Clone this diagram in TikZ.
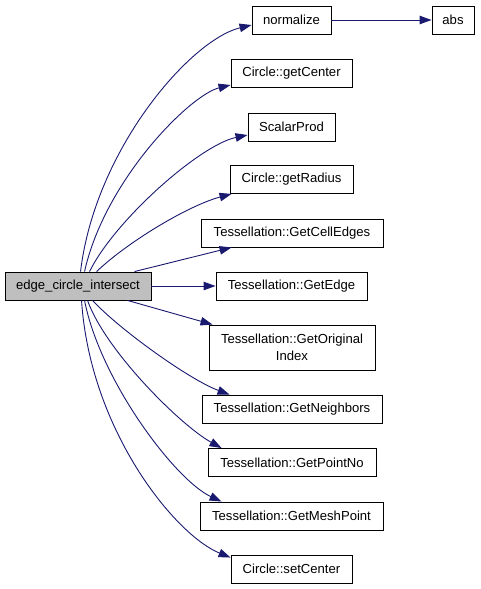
\documentclass[tikz,border=0pt]{standalone}
\usepackage{fontspec}
\setmainfont{Liberation Sans}
\usetikzlibrary{arrows.meta}
\definecolor{edgeblue}{RGB}{25,25,112}
\definecolor{srcgray}{RGB}{191,191,191}
\tikzset{
  fn/.style={draw=black, fill=white, line width=0.9pt, inner sep=0pt, minimum height=28pt,
    font=\fontsize{13.1}{16.5}\selectfont, text=black},
  srcfn/.style={fn, fill=srcgray},
  call/.style={draw=edgeblue, line width=0.9pt, -{Triangle[length=12pt,width=8.5pt]}},
}
\begin{document}
\begin{tikzpicture}[x=1pt,y=-1pt]
\useasboundingbox (0,0) rectangle (480,589);
\node[srcfn, minimum width=146pt] (src) at (78,286) {edge\_circle\_intersect};
\node[fn, minimum width=79pt] (nrm) at (291.5,20) {normalize};
\node[fn, minimum width=42pt] (abs) at (453,20) {abs};
\node[fn, minimum width=121pt] (gc) at (291.5,73.5) {Circle::getCenter};
\node[fn, minimum width=87pt] (sp) at (291.5,127) {ScalarProd};
\node[fn, minimum width=123pt] (gr) at (291.5,179.5) {Circle::getRadius};
\node[fn, minimum width=182pt] (ce) at (292,233) {Tessellation::GetCellEdges};
\node[fn, minimum width=151pt] (ge) at (291.5,286) {Tessellation::GetEdge};
\node[fn, minimum width=166pt, minimum height=45pt, align=center] (go) at (292,347.5) {Tessellation::GetOriginal\\Index};
\node[fn, minimum width=180pt] (gn) at (292,409) {Tessellation::GetNeighbors};
\node[fn, minimum width=168pt] (gp) at (292,462.5) {Tessellation::GetPointNo};
\node[fn, minimum width=183pt] (gm) at (291.5,516) {Tessellation::GetMeshPoint};
\node[fn, minimum width=121pt] (sc) at (291.5,569) {Circle::setCenter};

\draw[call] (nrm.east) -- (abs.west);
\draw[call] ([xshift=76pt]src.north west) .. controls (95,150) and (190,40) .. ([yshift=-5pt]nrm.west);
\draw[call] ([xshift=80pt]src.north west) .. controls (105,180) and (190,95) .. ([yshift=-11.5pt]gc.west);
\draw[call] ([xshift=85pt]src.north west) .. controls (115,220) and (200,145) .. ([yshift=-8pt]sp.west);
\draw[call] ([xshift=92pt]src.north west) .. controls (130,240) and (190,205) .. ([xshift=2pt]gr.south west);
\draw[call] ([xshift=130pt]src.north west) -- ([xshift=31pt]ce.south west);
\draw[call] (src.east) -- (ge.west);
\draw[call] ([xshift=123pt]src.south west) -- ([xshift=4pt]go.north west);
\draw[call] ([xshift=88pt]src.south west) .. controls (120,330) and (190,380) .. ([xshift=28pt]gn.north west);
\draw[call] ([xshift=83pt]src.south west) .. controls (105,350) and (180,425) .. ([xshift=14pt]gp.north west);
\draw[call] ([xshift=80pt]src.south west) .. controls (100,380) and (175,480) .. ([xshift=22pt]gm.north west);
\draw[call] ([xshift=77pt]src.south west) .. controls (90,430) and (175,535) .. ([yshift=-3pt]sc.north west);
\end{tikzpicture}
\end{document}
